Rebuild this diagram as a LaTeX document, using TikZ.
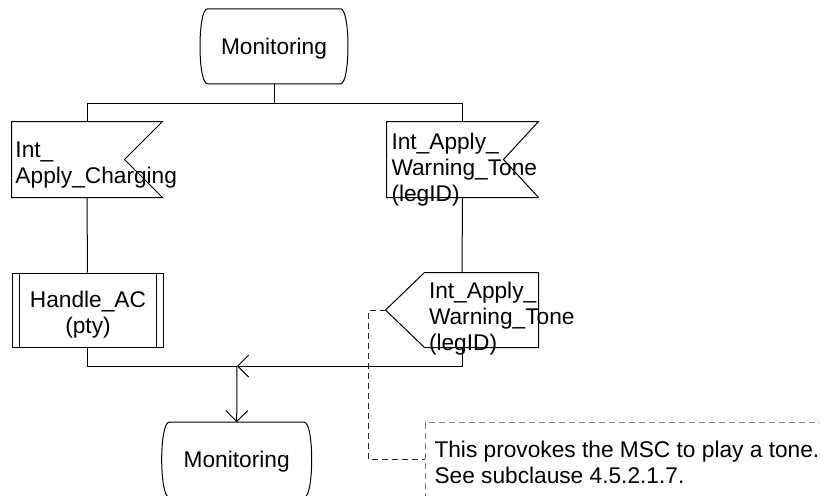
\documentclass[tikz,border=0pt]{standalone}
\usepackage{fontspec}
\setmainfont{Liberation Sans}
\usetikzlibrary{arrows.meta}

\begin{document}
\begin{tikzpicture}[
  x=0.5pt, y=-0.5pt, line width=0.5pt,
  txt/.style={font=\fontsize{11.35}{13}\selectfont, inner sep=0pt, align=left, anchor=north west},
  state/.style={minimum width=74pt, minimum height=37pt, inner sep=0pt, text depth=0pt, font=\fontsize{11.35}{13}\selectfont},
  sigbox/.style={minimum height=37.5pt, inner sep=0pt},
  arr/.style={-{Straight Barb[length=5.5pt, width=11pt]}},
  link/.style={draw=black!85, dash pattern=on 3pt off 2pt},
  cmt/.style={draw=black!50, dash pattern=on 3pt off 2pt}
]
\useasboundingbox (0,0) rectangle (820,495);

% --- States ---
\node[state] (mon1) at (274, 46.3) {Monitoring};
\draw ([xshift=4pt]mon1.north west) -- ([xshift=-4pt]mon1.north east)
  .. controls ([xshift=1pt]mon1.north east) and ([xshift=1pt]mon1.south east) .. ([xshift=-4pt]mon1.south east)
  -- ([xshift=4pt]mon1.south west)
  .. controls ([xshift=-1pt]mon1.south west) and ([xshift=-1pt]mon1.north west) .. cycle;

\node[state, minimum width=75pt] (mon2) at (236.7, 459.7) {Monitoring};
\draw ([xshift=4pt]mon2.north west) -- ([xshift=-4pt]mon2.north east)
  .. controls ([xshift=1pt]mon2.north east) and ([xshift=1pt]mon2.south east) .. ([xshift=-4pt]mon2.south east)
  -- ([xshift=4pt]mon2.south west)
  .. controls ([xshift=-1pt]mon2.south west) and ([xshift=-1pt]mon2.north west) .. cycle;

% --- Input signals ---
\node[sigbox, minimum width=75pt] (in1) at (87, 159.5) {};
\draw (in1.north west) -- (in1.north east) -- ([xshift=-19pt]in1.east) -- (in1.south east) -- (in1.south west) -- cycle;
\node[txt] (in1txt) at (15, 141.5) {Int\_\\Apply\_Charging};

\node[sigbox, minimum width=75.5pt] (in2) at (462.5, 159.5) {};
\draw (in2.north west) -- (in2.north east) -- ([xshift=-17.5pt]in2.east) -- (in2.south east) -- (in2.south west) -- cycle;
\node[txt] (in2txt) at (391, 132.3) {Int\_Apply\_\\Warning\_Tone\\(legID)};

% --- Procedure call ---
\node[draw, minimum width=75.5pt, minimum height=37pt, inner sep=0pt] (hac) at (87.5, 310) {};
\draw ([xshift=3.75pt]hac.north west) -- ([xshift=3.75pt]hac.south west);
\draw ([xshift=-3.75pt]hac.north east) -- ([xshift=-3.75pt]hac.south east);
\node[txt, align=center, anchor=north] (hactxt) at (88, 290.5) {Handle\_AC\\(pty)};

% --- Output signal ---
\node[sigbox, minimum width=76pt, minimum height=37pt] (out1) at (462, 310) {};
\draw (out1.west) -- ([xshift=19.5pt]out1.north west) -- (out1.north east) -- (out1.south east) -- ([xshift=19.5pt]out1.south west) -- cycle;
\node[txt] (out1txt) at (428.5, 281.7) {Int\_Apply\_\\Warning\_Tone\\(legID)};

% --- Flow lines ---
\coordinate (forkL) at (87, 103);
\coordinate (forkR) at (462.5, 103);
\coordinate (join) at (237, 366);
\draw (mon1.south) -- (mon1.south |- forkL);
\draw (forkL) -- (forkR);
\draw (forkL) -- (in1.north);
\draw (forkR) -- (in2.north);
\draw (in1.south) -- (hac.north);
\draw (in2.south) -- (out1.north);
\draw (hac.south) |- (join);
\draw[arr] (out1.south) |- (join);
\draw[arr] (join) -- (mon2.north);

% --- Comment ---
\coordinate (noteTL) at (425, 422.7);
\coordinate (noteM) at (425, 459);
\node[txt] (note) at (434, 441) {This provokes the MSC to play a tone.\\See subclause 4.5.2.1.7.};
\draw[cmt] (noteTL) ++(400,0) -- (noteTL) -- ++(0,80);
\draw[link] (out1.west) -- ++(-17.5,0) |- (noteM);

\end{tikzpicture}
\end{document}
